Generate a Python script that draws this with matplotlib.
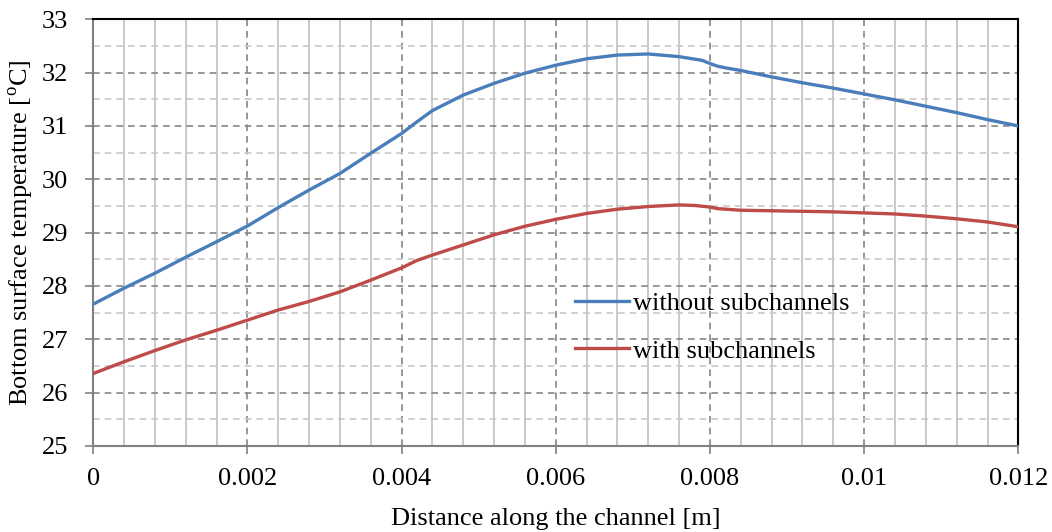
import matplotlib.pyplot as plt
from matplotlib.ticker import MultipleLocator, FuncFormatter

# 读取自图片的数据点
x_without = [0, 0.0004, 0.0008, 0.0012, 0.0016, 0.002, 0.0024, 0.0028, 0.0032, 0.0036,
             0.004, 0.0042, 0.0044, 0.0048, 0.0052, 0.0056, 0.006, 0.0064, 0.0068, 0.0072,
             0.0076, 0.0079, 0.008, 0.0081, 0.0082, 0.0084, 0.0088, 0.0092, 0.0096, 0.010,
             0.0104, 0.0108, 0.0112, 0.0116, 0.012]
t_without = [27.66, 27.96, 28.24, 28.54, 28.83, 29.125, 29.47, 29.8, 30.11, 30.49,
             30.86, 31.08, 31.29, 31.58, 31.8, 31.99, 32.14, 32.26, 32.33, 32.35,
             32.3, 32.23, 32.17, 32.12, 32.09, 32.04, 31.92, 31.81, 31.71, 31.6,
             31.49, 31.37, 31.25, 31.12, 31.0]

x_with = [0, 0.0004, 0.0008, 0.0012, 0.0016, 0.002, 0.0024, 0.0028, 0.0032, 0.0036,
          0.004, 0.0042, 0.0044, 0.0048, 0.0052, 0.0056, 0.006, 0.0064, 0.0068, 0.0072,
          0.0076, 0.0078, 0.008, 0.0081, 0.0084, 0.0088, 0.0092, 0.0096, 0.010, 0.0104,
          0.0108, 0.0112, 0.0116, 0.012]
t_with = [26.36, 26.58, 26.79, 26.99, 27.17, 27.36, 27.55, 27.71, 27.89, 28.11,
          28.34, 28.48, 28.58, 28.77, 28.96, 29.12, 29.25, 29.36, 29.44, 29.49,
          29.52, 29.51, 29.48, 29.45, 29.42, 29.41, 29.40, 29.39, 29.37, 29.35,
          29.31, 29.26, 29.20, 29.11]

labels = ['without subchannels', 'with subchannels']
colors = ['#4a7ebb', '#be4b48']

plt.rcParams['font.family'] = ['Liberation Serif', 'DejaVu Serif']
plt.rcParams['mathtext.fontset'] = 'custom'
plt.rcParams['mathtext.rm'] = 'Liberation Serif'
fs = 19

fig = plt.figure(figsize=(10.52, 5.32), dpi=100)
ax = fig.add_axes([0.0887, 0.1617, 0.8793, 0.802])

ax.plot(x_without, t_without, color=colors[0], linewidth=2.4, label=labels[0], zorder=3)
ax.plot(x_with, t_with, color=colors[1], linewidth=2.4, label=labels[1], zorder=3)

ax.set_xlim(0, 0.012)
ax.set_ylim(25, 33)

# 主/次刻度
ax.xaxis.set_major_locator(MultipleLocator(0.002))
ax.xaxis.set_minor_locator(MultipleLocator(0.0004))
ax.yaxis.set_major_locator(MultipleLocator(1))
ax.yaxis.set_minor_locator(MultipleLocator(0.5))
ax.xaxis.set_major_formatter(FuncFormatter(lambda v, p: f'{round(v, 4):g}'))
ax.yaxis.set_major_formatter(FuncFormatter(lambda v, p: f'{v:.0f}'))

# 网格
ax.grid(True, which='major', axis='x', color='#858585', linestyle=(0, (4, 3)), linewidth=1.2)
ax.grid(True, which='minor', axis='x', color='#c0c0c0', linestyle='-', linewidth=1.2)
ax.grid(True, which='major', axis='y', color='#858585', linestyle=(0, (4, 3)), linewidth=1.2)
ax.grid(True, which='minor', axis='y', color='#c8c8c8', linestyle=(0, (4, 3)), linewidth=1.2)
ax.set_axisbelow(True)

for side in ['left', 'bottom']:
    ax.spines[side].set_color('#808080')
    ax.spines[side].set_linewidth(1.5)
for side in ['top', 'right']:
    ax.spines[side].set_color('black')
    ax.spines[side].set_linewidth(1.5)

ax.tick_params(which='major', direction='out', length=6, width=1.2, color='#808080',
               labelsize=fs)
ax.tick_params(axis='y', pad=12)
ax.tick_params(axis='x', pad=10)
ax.tick_params(which='minor', length=0)

ax.set_xlabel('Distance along the channel [m]', fontsize=fs, labelpad=13)
ax.set_ylabel('Bottom surface temperature [$^{\\rm o}$C]', fontsize=fs, labelpad=4)

ax.legend(loc='center left', bbox_to_anchor=(0.521, 0.278), frameon=False, fontsize=fs,
          handlelength=2.05, handletextpad=0.15, labelspacing=0.9,
          borderpad=0, borderaxespad=0)

plt.savefig('out.png', dpi=100)
plt.close()
